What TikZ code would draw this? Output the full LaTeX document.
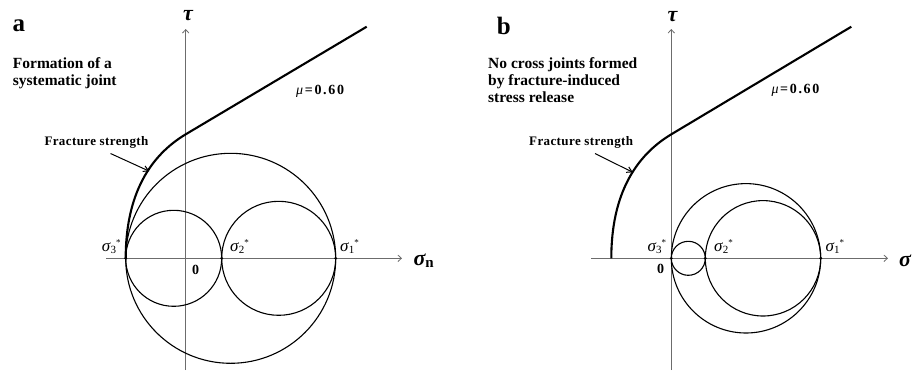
\documentclass[tikz,border=0pt]{standalone}
\usepackage{fontspec}
\setmainfont{Liberation Serif}
\newfontfamily\lsfont[LetterSpace=3]{Liberation Serif}
\newfontfamily\lsmfont[LetterSpace=12]{Liberation Serif}
\usetikzlibrary{arrows.meta}
\newcommand\sgl[1]{{\fontsize{17}{17}\selectfont\itshape σ}\kern0.3pt\raisebox{-2.2pt}{\fontsize{11}{11}\selectfont #1}\raisebox{6.5pt}{\fontsize{9}{9}\selectfont *}}
\begin{document}
\begin{tikzpicture}[x=1pt,y=-1pt,
  axis/.style={draw=gray!85!black, line width=0.8pt, -{Straight Barb[length=3.5pt,width=6.5pt]}},
  mohr/.style={line width=1.1pt},
  env/.style={line width=2.1pt, line join=round},
  fsarrow/.style={draw=black, line width=1pt, -{Straight Barb[length=5pt,width=6pt]}},
  lbl/.style={inner sep=0pt},
  panel/.style={lbl, font=\fontsize{25}{25}\selectfont\bfseries},
  note/.style={lbl, align=left, anchor=north west, font=\fontsize{15.5}{16.6}\selectfont\bfseries},
  fs/.style={lbl, anchor=base west, font=\fontsize{13}{13}\selectfont\lsfont\bfseries},
  mu/.style={lbl, anchor=base west, font=\fontsize{14}{14}\selectfont\lsmfont\bfseries},
  axl/.style={lbl, font=\fontsize{22}{22}\selectfont\bfseries\itshape},
  zero/.style={lbl, font=\fontsize{14}{14}\selectfont\bfseries},
  sg/.style={lbl, anchor=base west},
  dot/.style={fill=black}
]
\useasboundingbox (0,0) rectangle (913,373);

% ---------------- panel a ----------------
\coordinate (a-o)  at (185.7,258.3);
\coordinate (a-s3) at (125.7,258.3);
\coordinate (a-s2) at (221.7,258.3);
\coordinate (a-s1) at (335.7,258.3);
\coordinate (a-xl) at (106,258.3);
\coordinate (a-xr) at (402,258.3);
\coordinate (a-yb) at (185.7,370);
\coordinate (a-yt) at (185.7,29);
\coordinate (a-k)  at (185.7,134.3);
\coordinate (a-e)  at (366.7,26.7);
\coordinate (a-c1) at (230.7,258.3);
\coordinate (a-c2) at (173.7,258.3);
\coordinate (a-c3) at (278.7,258.3);

\draw[axis] (a-xl) -- (a-xr);
\draw[axis] (a-yb) -- (a-yt);
\draw[mohr] (a-c1) circle[radius=105pt];
\draw[mohr] (a-c2) circle[radius=48pt];
\draw[mohr] (a-c3) circle[radius=57pt];
\draw[env] (a-s3) .. controls (125.7,193.3) and (150.7,155.3) .. (a-k) -- (a-e);
\fill[dot] (a-s3) circle[radius=1.6pt];
\fill[dot] (a-s2) circle[radius=1.6pt];
\fill[dot] (a-s1) circle[radius=1.6pt];

\node[panel] (a-lab) at (18.8,26) {a};
\node[note] (a-note) at (12.7,57.7) {Formation of a\\systematic joint};
\node[fs] (a-fs) at (44.3,145.7) {Fracture strength};
\coordinate (afsT) at (110.5,153.5);
\coordinate (afsP) at (149.3,171.2);
\draw[fsarrow] (afsT) -- (afsP);
\node[mu] (a-mu) at (296,94) {\textit{\mdseries μ}=0.60};
\node[axl] (a-tau) at (188,16) {τ};
\node[sg] (a-sig) at (413.3,265.7) {{\fontsize{22}{22}\selectfont\bfseries\itshape σ}\raisebox{-2pt}{\fontsize{15}{15}\selectfont\bfseries n}};
\node[zero] (a-zero) at (195.5,269.5) {0};
\node[sg] (a-l3) at (101.7,251.7) {\sgl{3}};
\node[sg] (a-l2) at (230,251.7) {\sgl{2}};
\node[sg] (a-l1) at (340,251.7) {\sgl{1}};

% ---------------- panel b ----------------
\coordinate (b-o)  at (671.3,258.3);
\coordinate (b-s3) at (671.3,258.3);
\coordinate (b-s2) at (705.3,258.3);
\coordinate (b-s1) at (820.7,258.3);
\coordinate (b-xl) at (591.3,258.3);
\coordinate (b-xr) at (888,258.3);
\coordinate (b-yb) at (671.3,370);
\coordinate (b-yt) at (671.3,29);
\coordinate (b-st) at (611.3,258.3);
\coordinate (b-k)  at (671.3,134.3);
\coordinate (b-e)  at (851.3,26.7);
\coordinate (b-c1) at (746,258.3);
\coordinate (b-c2) at (688.3,258.3);
\coordinate (b-c3) at (763,258.3);

\draw[axis] (b-xl) -- (b-xr);
\draw[axis] (b-yb) -- (b-yt);
\draw[mohr] (b-c1) circle[radius=74.7pt];
\draw[mohr] (b-c2) circle[radius=17pt];
\draw[mohr] (b-c3) circle[radius=57.7pt];
\draw[env] (b-st) .. controls (611.3,193.3) and (636.3,155.3) .. (b-k) -- (b-e);
\fill[dot] (b-s3) circle[radius=1.6pt];
\fill[dot] (b-s2) circle[radius=1.6pt];
\fill[dot] (b-s1) circle[radius=1.6pt];

\node[panel] (b-lab) at (503.8,25.8) {b};
\node[note] (b-note) at (488,57.7) {No cross joints formed\\by fracture-induced\\stress release};
\node[fs] (b-fs) at (529,145.7) {Fracture strength};
\coordinate (bfsT) at (595,153.5);
\coordinate (bfsP) at (632.8,172.3);
\draw[fsarrow] (bfsT) -- (bfsP);
\node[mu] (b-mu) at (771.3,93.3) {\textit{\mdseries μ}=0.60};
\node[axl] (b-tau) at (672.5,16.5) {τ};
\node[sg] (b-sig) at (899,266.5) {{\fontsize{22}{22}\selectfont\bfseries\itshape σ}};
\node[zero] (b-zero) at (660.5,269) {0};
\node[sg] (b-l3) at (647.3,251.7) {\sgl{3}};
\node[sg] (b-l2) at (714,251.7) {\sgl{2}};
\node[sg] (b-l1) at (825.3,251.7) {\sgl{1}};
\end{tikzpicture}
\end{document}
